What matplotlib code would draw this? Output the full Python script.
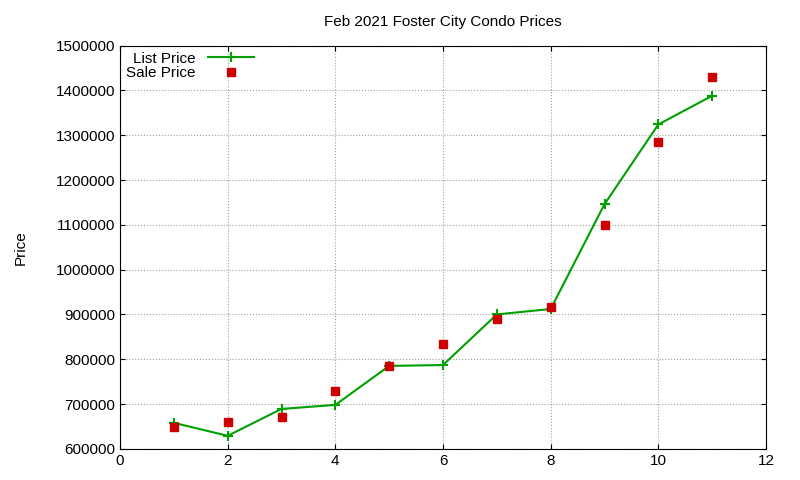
import matplotlib
matplotlib.use("Agg")
import matplotlib.pyplot as plt

units = [1, 2, 3, 4, 5, 6, 7, 8, 9, 10, 11]
list_price = [658000, 629000, 689000, 698000, 785000, 787000, 900000, 912000, 1146000, 1324000, 1388000]
sale_price = [649000, 660000, 671000, 729000, 785000, 834000, 890000, 916000, 1099000, 1284000, 1431000]

plt.rcParams['font.family'] = ['Liberation Sans', 'DejaVu Sans']
fig = plt.figure(figsize=(8, 4.8), dpi=100)
ax = fig.add_axes([0.15, 0.065, 0.8075, 0.84])
ax.plot(units, list_price, color='#00a000', marker='+', markersize=7, mew=1.5, lw=1.5, label='List Price')
ax.plot(units, sale_price, color='#cc0000', marker='s', markersize=5.5, ls='none', label='Sale Price')
ax.set_xlim(0, 12)
ax.set_ylim(600000, 1500000)
ax.set_xticks(range(0, 13, 2))
ax.set_yticks(range(600000, 1500001, 100000))
ax.ticklabel_format(style='plain', axis='y')
ax.grid(True, color='#a0a0a0', ls=':', lw=0.8)
ax.tick_params(direction='in', labelsize=11, top=True, right=True)
ax.set_ylabel('Price', fontsize=11, labelpad=20)
ax.set_title('Feb 2021 Foster City Condo Prices', fontsize=11, pad=14)
leg = ax.legend(loc='upper left', frameon=False, fontsize=11, markerfirst=False, handlelength=3, borderaxespad=0.0, labelspacing=0.05)
fig.savefig('out.png')
